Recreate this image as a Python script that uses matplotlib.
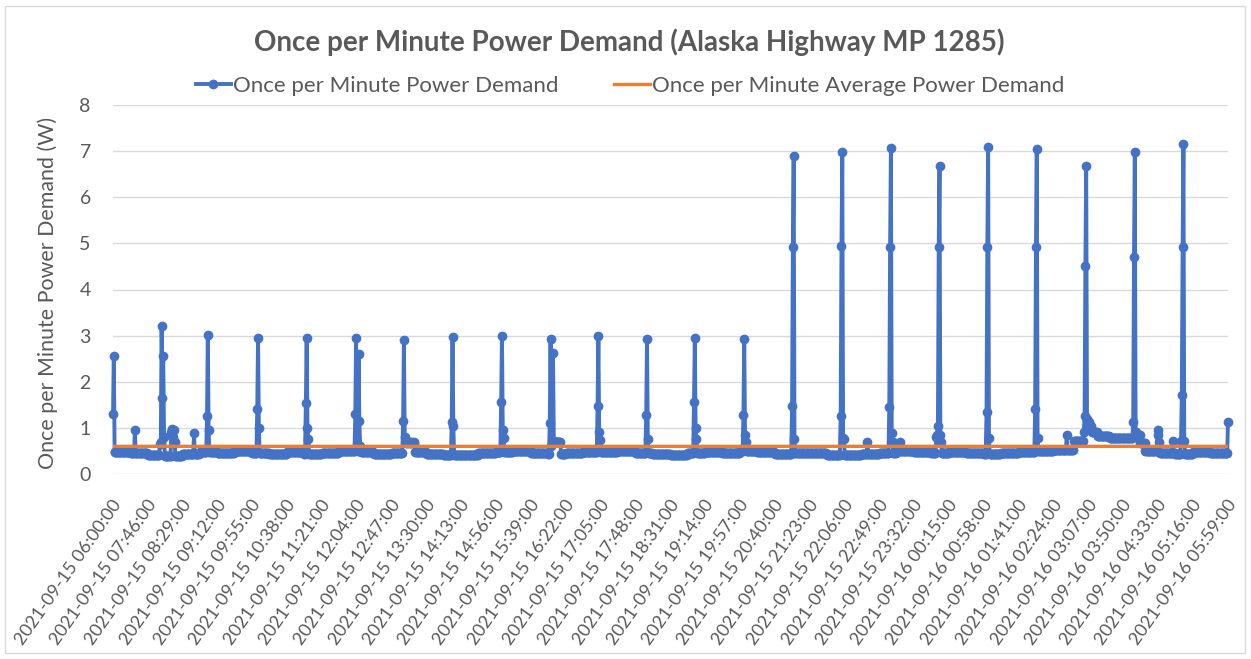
import numpy as np
import matplotlib
matplotlib.use("Agg")
import matplotlib.pyplot as plt
from matplotlib.lines import Line2D
from matplotlib.patches import Rectangle
from matplotlib.transforms import ScaledTranslation

plt.rcParams['font.family'] = ['Lato', 'DejaVu Sans']

# --- data ---
n_points = 1377  # one reading per minute, 06:00 .. 05:59 (gap after the first reading)

tick_labels = [
    "2021-09-15 06:00:00", "2021-09-15 07:46:00", "2021-09-15 08:29:00", "2021-09-15 09:12:00",
    "2021-09-15 09:55:00", "2021-09-15 10:38:00", "2021-09-15 11:21:00", "2021-09-15 12:04:00",
    "2021-09-15 12:47:00", "2021-09-15 13:30:00", "2021-09-15 14:13:00", "2021-09-15 14:56:00",
    "2021-09-15 15:39:00", "2021-09-15 16:22:00", "2021-09-15 17:05:00", "2021-09-15 17:48:00",
    "2021-09-15 18:31:00", "2021-09-15 19:14:00", "2021-09-15 19:57:00", "2021-09-15 20:40:00",
    "2021-09-15 21:23:00", "2021-09-15 22:06:00", "2021-09-15 22:49:00", "2021-09-15 23:32:00",
    "2021-09-16 00:15:00", "2021-09-16 00:58:00", "2021-09-16 01:41:00", "2021-09-16 02:24:00",
    "2021-09-16 03:07:00", "2021-09-16 03:50:00", "2021-09-16 04:33:00", "2021-09-16 05:16:00",
    "2021-09-16 05:59:00",
]
tick_step = 43

# baseline (idle) demand: index where a level starts, and the level in W
base_start = [0, 22, 43, 64, 86, 107, 129, 150, 172, 193, 215, 236, 258, 279, 301, 322,
              344, 365, 387, 408, 430, 451, 473, 494, 516, 537, 559, 580, 602, 623, 645,
              666, 688, 709, 731, 752, 774, 795, 817, 838, 860, 881, 903, 924, 946, 967,
              989, 1010, 1032, 1053, 1075, 1096, 1118, 1139, 1161, 1186, 1203, 1208, 1215,
              1230, 1262, 1268, 1274, 1290, 1311, 1333, 1354]
base_level = [0.47, 0.45, 0.42, 0.4, 0.44, 0.47, 0.46, 0.49, 0.45, 0.43, 0.47, 0.44,
              0.46, 0.49, 0.47, 0.44, 0.45, 0.48, 0.43, 0.41, 0.42, 0.45, 0.47, 0.49,
              0.46, 0.43, 0.45, 0.48, 0.47, 0.5, 0.46, 0.44, 0.42, 0.45, 0.48, 0.46,
              0.49, 0.47, 0.44, 0.46, 0.45, 0.42, 0.41, 0.44, 0.46, 0.49, 0.47, 0.45,
              0.48, 0.46, 0.43, 0.45, 0.47, 0.5, 0.52, 0.72, 1.05, 0.92, 0.82, 0.77,
              0.85, 0.68, 0.5, 0.46, 0.44, 0.47, 0.45]

# spikes / bumps: first index and the consecutive readings (W)
spike_start = [0, 27, 58, 72, 100, 116, 178, 238, 299, 358, 418, 479, 539, 598, 658, 717,
               778, 838, 898, 931, 958, 971, 1016, 1078, 1138, 1177, 1198, 1259, 1289, 1308,
               1318, 1376]
spike_values = [
    [1.3, 2.55],
    [0.95],
    [0.65, 0.7, 3.2, 1.65, 2.55, 0.8],
    [0.9, 0.97, 0.8, 0.95, 0.7],
    [0.88],
    [1.25, 3.02, 0.95],
    [1.4, 2.95, 1.0],
    [1.55, 2.95, 1.0, 0.75],
    [1.3, 2.95, 0.5, 0.55, 2.6, 1.15, 0.6],
    [1.15, 2.9, 0.8, 0.7, 0.68, 0.68, 0.7, 0.68, 0.7, 0.68, 0.68, 0.7, 0.68, 0.68, 0.7],
    [1.13, 2.98, 1.03],
    [1.56, 2.99, 0.95, 0.78],
    [1.1, 2.93, 0.6, 0.65, 2.63, 0.72, 0.7, 0.7, 0.7, 0.7, 0.7, 0.7, 0.7, 0.7],
    [1.47, 2.99, 0.92, 0.74],
    [1.28, 2.93, 0.76],
    [1.57, 2.95, 1.0, 0.76],
    [1.28, 2.93, 0.85, 0.7],
    [1.47, 4.92, 6.9, 0.75],
    [1.26, 4.95, 6.99, 0.77, 0.75],
    [0.7],
    [1.45, 4.92, 7.07, 0.88, 0.7],
    [0.7],
    [0.8, 0.85, 1.04, 4.92, 6.67, 0.85, 0.7],
    [1.35, 4.93, 7.09, 0.77],
    [1.41, 4.93, 7.04, 0.77],
    [0.85],
    [0.9, 1.26, 4.51, 6.68, 1.2, 1.15, 1.12],
    [1.13, 4.7, 6.99, 0.9, 0.85],
    [0.85, 0.95, 0.7],
    [0.72],
    [0.72, 1.71, 4.92, 7.16, 0.72],
    [1.13],
]

avg_demand = 0.6

# build the per-minute series
demand = np.zeros(n_points)
bounds = base_start[1:] + [n_points]
for s, e, lvl in zip(base_start, bounds, base_level):
    demand[s:e] = lvl
for s, vals in zip(spike_start, spike_values):
    demand[s:s + len(vals)] = vals

x = np.arange(n_points)
avg_line = np.full(n_points, avg_demand)

# --- plot ---
W, H = 1251, 659
fig = plt.figure(figsize=(W / 100, H / 100), dpi=100)
ax = fig.add_axes([113 / W, 1 - 474 / H, (1228 - 113) / W, (474 - 105) / H])

blue = '#4472C4'
orange = '#ED7D31'
grey = '#595959'

ax.plot(x, demand, color=blue, lw=2.8, marker='o', markersize=6, clip_on=False, zorder=3)
ax.plot(x, avg_line, color=orange, lw=2.4, zorder=4)

ax.set_xlim(0, n_points - 1)
ax.set_ylim(0, 8)
ax.set_yticks(range(0, 9))
ax.set_xticks(np.arange(0, n_points, tick_step))
ax.set_xticklabels(tick_labels, rotation=55, ha='right', va='center',
                   rotation_mode='anchor', fontsize=13, color=grey)
ax.tick_params(axis='x', length=0, pad=20)
ax.tick_params(axis='y', length=0, pad=16, labelsize=14, labelcolor=grey)
shift = ScaledTranslation(5 / 100, 0, fig.dpi_scale_trans)
for lab in ax.get_xticklabels():
    lab.set_transform(lab.get_transform() + shift)

ax.yaxis.grid(True, color='#D9D9D9', lw=1)
ax.set_axisbelow(True)
for sp in ax.spines.values():
    sp.set_visible(False)

fig.text(48 / W, 1 - 293 / H, 'Once per Minute Power Demand (W)', rotation=90,
         ha='center', va='center', fontsize=15.4, color=grey)
fig.text(629 / W, 1 - 42 / H, 'Once per Minute Power Demand (Alaska Highway MP 1285)',
         ha='center', va='center', fontsize=20, fontweight='bold', color=grey)

handles = [
    Line2D([], [], color=blue, lw=2.8, marker='o', markersize=6),
    Line2D([], [], color=orange, lw=2.4),
]
fig.legend(handles, ['Once per Minute Power Demand', 'Once per Minute Average Power Demand'],
           loc='center', bbox_to_anchor=(630 / W, 1 - 86 / H), ncol=2, frameon=False,
           fontsize=16, labelcolor=grey, handlelength=1.6, handletextpad=0.1,
           columnspacing=2.5)

fig.add_artist(Rectangle((5 / W, 1 - 653 / H), 1240 / W, 647 / H, transform=fig.transFigure,
                         fill=False, edgecolor='#D9D9D9', lw=1))

fig.savefig('out.png', dpi=100)
